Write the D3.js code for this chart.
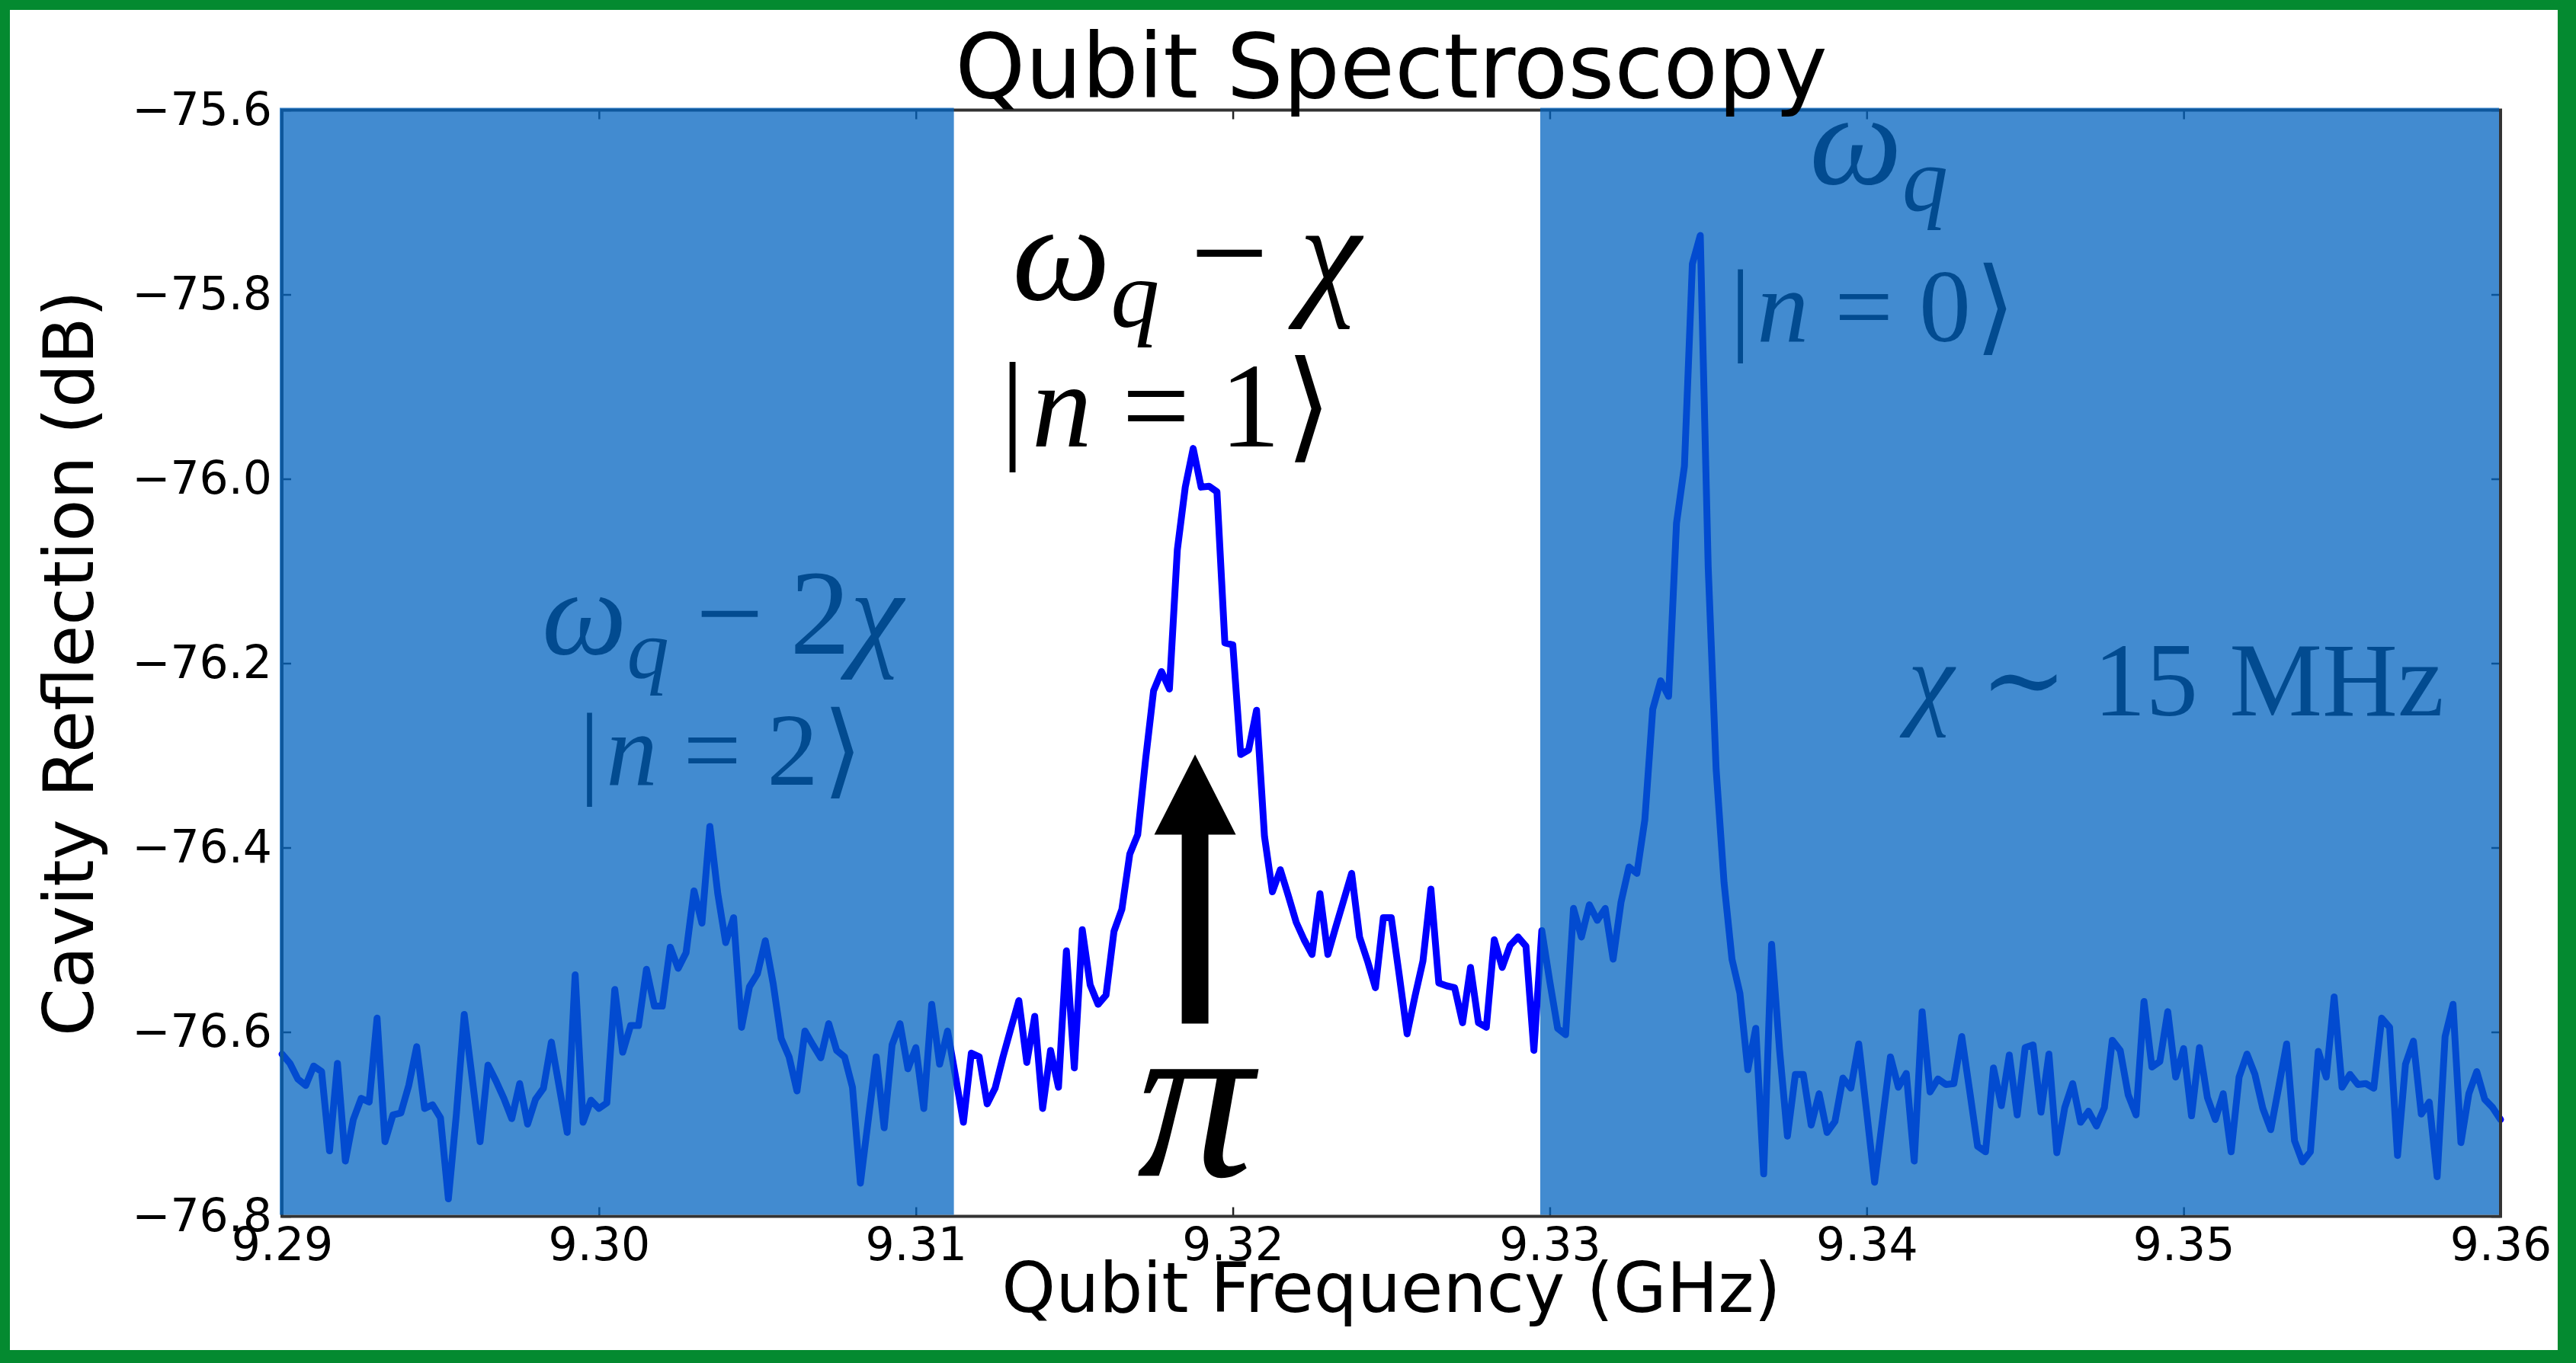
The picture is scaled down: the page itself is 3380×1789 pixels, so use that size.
<!DOCTYPE html>
<html><head><meta charset="utf-8">
<script src="https://cdn.jsdelivr.net/npm/d3@7"></script>
<style>html,body{margin:0;padding:0;background:#fff;} svg{display:block;}</style>
</head><body>
<svg id="chart" width="3380" height="1789"></svg>
<script>
// ---------------- data ----------------
const xDomain = [9.29, 9.36];
const yDomain = [-76.8, -75.6];
const xTicks = [9.29, 9.30, 9.31, 9.32, 9.33, 9.34, 9.35, 9.36];
const yTicks = [-76.8, -76.6, -76.4, -76.2, -76.0, -75.8, -75.6];
const freqStartGHz = 9.29;
const freqStepGHz = 0.00025;
const reflectionDb = [
-76.624,-76.634,-76.651,-76.658,-76.637,-76.643,-76.729,-76.634,-76.740,-76.695,
-76.672,-76.676,-76.585,-76.719,-76.690,-76.688,-76.658,-76.616,-76.683,-76.679,
-76.693,-76.781,-76.690,-76.581,-76.650,-76.719,-76.636,-76.653,-76.672,-76.694,
-76.656,-76.700,-76.673,-76.661,-76.611,-76.660,-76.709,-76.538,-76.698,-76.674,
-76.683,-76.677,-76.554,-76.622,-76.593,-76.593,-76.532,-76.572,-76.572,-76.508,
-76.531,-76.514,-76.447,-76.482,-76.377,-76.450,-76.503,-76.476,-76.595,-76.551,
-76.537,-76.501,-76.548,-76.607,-76.627,-76.664,-76.599,-76.614,-76.628,-76.591,
-76.620,-76.627,-76.660,-76.764,-76.695,-76.627,-76.704,-76.614,-76.591,-76.640,
-76.617,-76.683,-76.570,-76.635,-76.599,-76.648,-76.698,-76.623,-76.627,-76.678,
-76.661,-76.627,-76.596,-76.566,-76.633,-76.583,-76.683,-76.620,-76.660,-76.512,
-76.639,-76.489,-76.549,-76.570,-76.560,-76.491,-76.467,-76.407,-76.386,-76.304,
-76.230,-76.209,-76.228,-76.077,-76.009,-75.967,-76.009,-76.008,-76.014,-76.178,
-76.180,-76.299,-76.294,-76.251,-76.388,-76.448,-76.424,-76.452,-76.481,-76.500,
-76.516,-76.450,-76.516,-76.486,-76.457,-76.428,-76.497,-76.523,-76.552,-76.476,
-76.476,-76.538,-76.602,-76.561,-76.523,-76.445,-76.547,-76.550,-76.552,-76.590,
-76.530,-76.590,-76.595,-76.500,-76.530,-76.506,-76.497,-76.507,-76.620,-76.490,
-76.545,-76.596,-76.603,-76.466,-76.497,-76.462,-76.479,-76.466,-76.521,-76.459,
-76.421,-76.428,-76.370,-76.250,-76.219,-76.236,-76.048,-75.986,-75.767,-75.736,
-76.096,-76.315,-76.438,-76.521,-76.558,-76.641,-76.596,-76.754,-76.505,-76.619,
-76.713,-76.646,-76.646,-76.701,-76.667,-76.709,-76.697,-76.650,-76.661,-76.613,
-76.687,-76.763,-76.695,-76.627,-76.660,-76.645,-76.740,-76.578,-76.665,-76.651,
-76.657,-76.656,-76.605,-76.664,-76.724,-76.730,-76.639,-76.680,-76.625,-76.690,
-76.617,-76.614,-76.687,-76.624,-76.731,-76.682,-76.656,-76.698,-76.686,-76.702,
-76.682,-76.609,-76.620,-76.668,-76.690,-76.567,-76.638,-76.632,-76.578,-76.649,
-76.618,-76.691,-76.617,-76.671,-76.695,-76.667,-76.730,-76.649,-76.624,-76.646,
-76.683,-76.706,-76.660,-76.613,-76.718,-76.741,-76.730,-76.621,-76.649,-76.562,
-76.660,-76.646,-76.657,-76.656,-76.661,-76.585,-76.595,-76.734,-76.635,-76.610,
-76.689,-76.676,-76.757,-76.605,-76.570,-76.720,-76.667,-76.643,-76.673,-76.682,-76.695
];
// shaded frequency bands (GHz)
const bandStarts = [9.29, 9.3297];
const bandEnds   = [9.3112, 9.36];
// annotation anchors (data coords) and texts
const annoX = [9.31854, 9.3179, 9.3039, 9.30385, 9.34038, 9.34019, 9.34976, 9.31881];
const annoY = [-75.805, -75.965, -76.19, -76.332, -75.680, -75.851, -76.257, -76.756];
const annoText = [
  [["ω","i"],["q","s"],["−","u",0.22],["χ","i",0.22]],
  [["|","u"],["n","i",0.06],["=","u",0.25],["1","u",0.25],["⟩","u",0.04]],
  [["ω","i"],["q","s"],["−","u",0.22],["2","u",0.22],["χ","i"]],
  [["|","u"],["n","i",0.06],["=","u",0.25],["2","u",0.25],["⟩","u",0.04]],
  [["ω","i"],["q","s"]],
  [["|","u"],["n","i",0.06],["=","u",0.25],["0","u",0.25],["⟩","u",0.04]],
  [["χ","i"],["∼","u",0.25],["15","u",0.25],["MHz","u",0.3]],
  [["π","i"]]
];
const annoSize = [183, 158, 158, 135, 172, 136, 137, 305];
// pi-pulse arrow (data coords)
const arrowX = 9.31881, arrowTip = -76.299, arrowHeadBase = -76.386, arrowTail = -76.591;

// ---------------- layout ----------------
const W = 3380, H = 1789;
const X0 = 370, X1 = 3281, Y0 = 144.5, Y1 = 1596.5;
const svg = d3.select('#chart');

// green frame
svg.append('rect').attr('x',0).attr('y',0).attr('width',W).attr('height',H).attr('fill','#048a30');
svg.append('rect').attr('x',13).attr('y',13).attr('width',3356-13).attr('height',1772-13).attr('fill','#fff');

const x = d3.scaleLinear().domain(xDomain).range([X0, X1]);
const y = d3.scaleLinear().domain(yDomain).range([Y1, Y0]);

const sansFont = "'DejaVu Sans', sans-serif";
const mathFont = "'Liberation Serif','DejaVu Serif',serif";

// data line
const pts = reflectionDb.map((v, i) => [freqStartGHz + i * freqStepGHz, v]);
svg.append('path').datum(pts)
  .attr('d', d3.line().x(d => x(d[0])).y(d => y(d[1])))
  .attr('fill','none').attr('stroke','#0000ff').attr('stroke-width',9)
  .attr('stroke-linejoin','round').attr('stroke-linecap','round');

// annotations
annoText.forEach((segs, k) => {
  const size = annoSize[k];
  const t = svg.append('text').attr('x', x(annoX[k])).attr('y', y(annoY[k]))
    .attr('font-family', mathFont).attr('font-size', size)
    .attr('text-anchor','middle').attr('fill','#000');
  let lowered = false;
  segs.forEach(s => {
    const ts = t.append('tspan').text(s[0]);
    if (s[1] === 'i' || s[1] === 's') ts.attr('font-style','italic');
    let dy = 0;
    if (s[1] === 's') { ts.attr('font-size', size * 0.7); dy = size * 0.2; lowered = true; }
    else if (lowered) { dy = -size * 0.2; lowered = false; }
    if (dy) ts.attr('dy', dy);
    if (s[2]) ts.attr('dx', s[2] * size);
  });
});

// arrow
const ax = x(arrowX), shaftHalf = 17.5, headHalf = 53.5;
const arrowPts = [
  [ax, y(arrowTip)], [ax + headHalf, y(arrowHeadBase)], [ax + shaftHalf, y(arrowHeadBase)],
  [ax + shaftHalf, y(arrowTail)], [ax - shaftHalf, y(arrowTail)], [ax - shaftHalf, y(arrowHeadBase)],
  [ax - headHalf, y(arrowHeadBase)]
];
svg.append('path').attr('d', 'M' + arrowPts.map(p => p.join(',')).join('L') + 'Z').attr('fill','#000');

// axes: frame + inward ticks on all sides
const tickLen = 12;
const axStyle = g => {
  g.selectAll('.domain').remove();
  g.selectAll('.tick line').attr('stroke','#222').attr('stroke-width',2.5);
  g.selectAll('.tick text').attr('font-family', sansFont).attr('font-size', 60).attr('fill','#000');
};
svg.append('g').attr('transform',`translate(0,${Y1})`)
  .call(d3.axisBottom(x).tickValues(xTicks).tickFormat(d3.format('.2f')).tickSize(-tickLen).tickPadding(15)).call(axStyle);
svg.append('g').attr('transform',`translate(0,${Y0})`)
  .call(d3.axisTop(x).tickValues(xTicks).tickFormat('').tickSize(-tickLen)).call(axStyle);
svg.append('g').attr('transform',`translate(${X0},0)`)
  .call(d3.axisLeft(y).tickValues(yTicks).tickFormat(d3.format('.1f')).tickSize(-tickLen).tickPadding(13)).call(axStyle);
svg.append('g').attr('transform',`translate(${X1},0)`)
  .call(d3.axisRight(y).tickValues(yTicks).tickFormat('').tickSize(-tickLen)).call(axStyle);
svg.append('rect').attr('x',X0).attr('y',Y0).attr('width',X1-X0).attr('height',Y1-Y0)
  .attr('fill','none').attr('stroke','#333').attr('stroke-width',4);

// shaded overlays (drawn on top, semi-transparent)
bandStarts.forEach((b, k) => {
  const xa = x(b) - (b === xDomain[0] ? 3 : 0);
  const xb = x(bandEnds[k]) - (bandEnds[k] === xDomain[1] ? 2 : 0);
  svg.append('rect').attr('x', xa).attr('y', Y0 - 3).attr('width', xb - xa).attr('height', Y1 - Y0 + 1)
    .attr('fill','rgb(3,100,192)').attr('fill-opacity',0.75);
});

// titles
svg.append('text').attr('x',(X0+X1)/2).attr('y',128).attr('text-anchor','middle')
  .attr('font-family',sansFont).attr('font-size',117).attr('fill','#000').text('Qubit Spectroscopy');
svg.append('text').attr('x',(X0+X1)/2).attr('y',1722).attr('text-anchor','middle')
  .attr('font-family',sansFont).attr('font-size',90).attr('fill','#000').text('Qubit Frequency (GHz)');
svg.append('text').attr('transform',`translate(122,${(Y0+Y1)/2}) rotate(-90)`).attr('text-anchor','middle')
  .attr('font-family',sansFont).attr('font-size',90).attr('fill','#000').text('Cavity Reflection (dB)');
</script>
</body></html>
